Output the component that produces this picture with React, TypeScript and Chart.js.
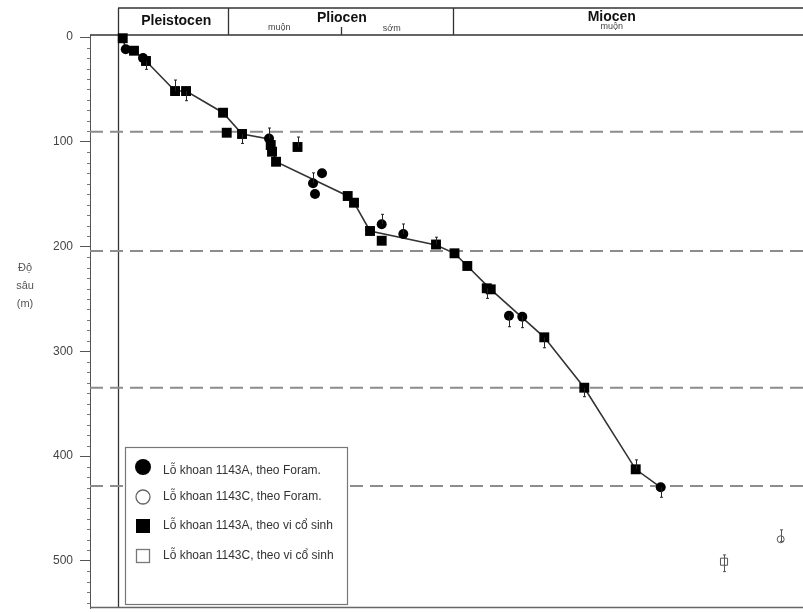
import React, { useEffect, useRef } from 'react';
import { Chart, registerables } from 'chart.js';

Chart.register(...registerables);

// ---------- data ----------
const yTicks = [0, 100, 200, 300, 400, 500];
const ageMin = -0.45;
const ageMax = 10.96;
const depthMin = -2;
const depthMax = 545;

// age-depth model line (age in Ma, depth in m)
const modelAge = [0.074, 0.126, 0.254, 0.446, 0.911, 1.087, 1.679, 1.983, 2.415, 2.527, 3.674, 3.775, 4.031, 5.087, 5.383, 5.588, 5.963, 6.82, 7.46, 8.283, 8.683];
const modelDepth = [1.1, 11.8, 13.0, 22.8, 51.5, 51.5, 72.2, 92.5, 97.3, 119.0, 151.7, 158.1, 185.1, 198.5, 206.4, 218.5, 240.8, 286.6, 334.7, 412.6, 429.8];

// Hole 1143A, Foram (filled circles)
const foramAAge = [0.122, 0.398, 2.415, 3.119, 3.263, 3.151, 4.218, 4.564, 6.255, 6.468, 8.683];
const foramADepth = [11.6, 19.9, 96.8, 139.6, 130.0, 149.8, 178.7, 188.0, 266.0, 266.9, 429.8];
const foramAErrMinus = [0, 0, 10, 10, 0, 0, 9.5, 9.6, 0, 0, 0];
const foramAErrPlus = [0, 0, 0, 0, 0, 0, 0, 0, 10.5, 10.5, 9.5];

// Hole 1143C, Foram (open circles)
const foramCAge = [10.603];
const foramCDepth = [479.4];
const foramCErrMinus = [9];
const foramCErrPlus = [2];

// Hole 1143A, nannofossils (filled squares)
const nannoAAge = [0.074, 0.254, 0.446, 0.911, 1.087, 1.679, 1.738, 1.983, 2.442, 2.463, 2.527, 2.871, 3.674, 3.775, 4.031, 4.218, 5.087, 5.383, 5.588, 5.899, 5.963, 6.82, 7.46, 8.283];
const nannoADepth = [1.1, 13.0, 22.8, 51.5, 51.5, 72.2, 91.3, 92.5, 103.0, 109.4, 119.0, 104.9, 151.7, 158.1, 185.1, 194.4, 198.0, 206.4, 218.5, 239.8, 240.8, 286.6, 334.7, 412.6];
const nannoAErrMinus = [0, 0, 0, 10.5, 0, 0, 0, 0, 0, 0, 0, 9.5, 0, 0, 0, 0, 7, 0, 0, 0, 0, 0, 0, 9];
const nannoAErrPlus = [0, 0, 8, 0, 9.2, 0, 0, 9, 0, 0, 0, 0, 0, 0, 0, 0, 0, 0, 0, 9.6, 0, 10, 8.6, 0];

// Hole 1143C, nannofossils (open squares)
const nannoCAge = [9.696];
const nannoCDepth = [500.8];
const nannoCErrMinus = [6.5];
const nannoCErrPlus = [9.5];

// datum (dashed) depths
const datumDepths = [90.3, 204.2, 334.7, 428.5];

// epochs
const epochBounds = [0, 1.76, 5.36];
const epochNames = ['Pleistocen', 'Pliocen', 'Miocen'];
const epochLabelAge = [0.93, 3.58, 7.9];
const subBoundAge = [3.57];
const subNames = ['muộn', 'sớm', 'muộn'];
const subLabelAge = [2.58, 4.38, 7.9];

const legendLabels = [
  'Lỗ khoan 1143A, theo Foram.',
  'Lỗ khoan 1143C, theo Foram.',
  'Lỗ khoan 1143A, theo vi cổ sinh',
  'Lỗ khoan 1143C, theo vi cổ sinh',
];

const yTitle = ['Độ', 'sâu', '(m)'];

const FONT = "'Liberation Sans', Arial, sans-serif";

const pts = (a: number[], d: number[]) => a.map((x, i) => ({ x, y: d[i] }));

const errorSets = [
  { age: foramAAge, depth: foramADepth, minus: foramAErrMinus, plus: foramAErrPlus, color: '#222' },
  { age: foramCAge, depth: foramCDepth, minus: foramCErrMinus, plus: foramCErrPlus, color: '#555' },
  { age: nannoAAge, depth: nannoADepth, minus: nannoAErrMinus, plus: nannoAErrPlus, color: '#222' },
  { age: nannoCAge, depth: nannoCDepth, minus: nannoCErrMinus, plus: nannoCErrPlus, color: '#555' },
];

const decorPlugin = {
  id: 'decor',
  beforeDatasetsDraw(chart: any) {
    const { ctx, chartArea, scales } = chart;
    const xs = scales.x;
    const ys = scales.y;
    const top = 8;
    const hb = chartArea.top;
    ctx.save();
    ctx.strokeStyle = '#333';
    ctx.lineWidth = 1.3;
    const x0 = xs.getPixelForValue(epochBounds[0]);
    // header
    ctx.beginPath();
    ctx.moveTo(x0, top);
    ctx.lineTo(chartArea.right, top);
    ctx.moveTo(chartArea.left, hb);
    ctx.lineTo(chartArea.right, hb);
    epochBounds.forEach((b) => {
      const px = Math.round(xs.getPixelForValue(b)) + 0.5;
      ctx.moveTo(px, top);
      ctx.lineTo(px, hb);
    });
    subBoundAge.forEach((b) => {
      const px = Math.round(xs.getPixelForValue(b)) + 0.5;
      ctx.moveTo(px, hb - 8);
      ctx.lineTo(px, hb);
    });
    // inner frame
    ctx.moveTo(Math.round(x0) + 0.5, hb);
    ctx.lineTo(Math.round(x0) + 0.5, chartArea.bottom);
    ctx.stroke();
    // bottom line
    ctx.strokeStyle = '#666';
    ctx.lineWidth = 1.5;
    ctx.beginPath();
    ctx.moveTo(chartArea.left, chartArea.bottom - 0.5);
    ctx.lineTo(chartArea.right, chartArea.bottom - 0.5);
    ctx.stroke();
    // minor ticks
    ctx.strokeStyle = '#777';
    ctx.lineWidth = 1;
    ctx.beginPath();
    for (let v = 10; v < depthMax; v += 10) {
      if (v % 100 === 0) continue;
      const py = Math.round(ys.getPixelForValue(v)) + 0.5;
      ctx.moveTo(chartArea.left - 3, py);
      ctx.lineTo(chartArea.left, py);
    }
    ctx.stroke();
    // header text
    ctx.fillStyle = '#111';
    ctx.textAlign = 'center';
    ctx.textBaseline = 'middle';
    ctx.font = `bold 14px ${FONT}`;
    const epochY = [21, 18, 17];
    epochNames.forEach((n, i) => {
      ctx.fillText(n, xs.getPixelForValue(epochLabelAge[i]), epochY[i]);
    });
    ctx.font = `9px ${FONT}`;
    ctx.fillStyle = '#444';
    const subY = [28, 29, 27];
    subNames.forEach((n, i) => {
      ctx.fillText(n, xs.getPixelForValue(subLabelAge[i]), subY[i]);
    });
    // y title
    ctx.font = `11px ${FONT}`;
    ctx.fillStyle = '#555';
    yTitle.forEach((t, i) => ctx.fillText(t, 25, 268 + i * 18));
    ctx.restore();
  },
  afterDatasetsDraw(chart: any) {
    const { ctx, scales } = chart;
    const xs = scales.x;
    const ys = scales.y;
    ctx.save();
    // error bars
    errorSets.forEach((s) => {
      ctx.strokeStyle = s.color;
      ctx.lineWidth = 1;
      s.age.forEach((a: number, i: number) => {
        const m = s.minus[i];
        const p = s.plus[i];
        if (!m && !p) return;
        const px = Math.round(xs.getPixelForValue(a)) + 0.5;
        const y1 = ys.getPixelForValue(s.depth[i] - m);
        const y2 = ys.getPixelForValue(s.depth[i] + p);
        ctx.beginPath();
        ctx.moveTo(px, y1);
        ctx.lineTo(px, y2);
        if (m) {
          ctx.moveTo(px - 1.5, y1);
          ctx.lineTo(px + 1.5, y1);
        }
        if (p) {
          ctx.moveTo(px - 1.5, y2);
          ctx.lineTo(px + 1.5, y2);
        }
        ctx.stroke();
      });
    });
    // legend
    const bx = 125, by = 447, bw = 222, bh = 157;
    ctx.fillStyle = '#fff';
    ctx.fillRect(bx, by, bw, bh);
    ctx.strokeStyle = '#777';
    ctx.lineWidth = 1.2;
    ctx.strokeRect(bx + 0.5, by + 0.5, bw, bh);
    const mx = 143;
    const rowY = [467, 497, 526, 556];
    // filled circle
    ctx.fillStyle = '#000';
    ctx.beginPath();
    ctx.arc(mx, rowY[0], 8, 0, Math.PI * 2);
    ctx.fill();
    // open circle
    ctx.strokeStyle = '#666';
    ctx.lineWidth = 1.3;
    ctx.beginPath();
    ctx.arc(mx, rowY[1], 7, 0, Math.PI * 2);
    ctx.fillStyle = '#fff';
    ctx.fill();
    ctx.stroke();
    // filled square
    ctx.fillStyle = '#000';
    ctx.fillRect(mx - 7, rowY[2] - 7, 14, 14);
    // open square
    ctx.strokeStyle = '#777';
    ctx.strokeRect(mx - 6.5, rowY[3] - 6.5, 13, 13);
    ctx.fillStyle = '#333';
    ctx.font = `12px ${FONT}`;
    ctx.textAlign = 'left';
    ctx.textBaseline = 'middle';
    const textY = [471, 497, 526, 556];
    legendLabels.forEach((t, i) => ctx.fillText(t, 163, textY[i]));
    ctx.restore();
  },
};

export default function App() {
  const ref = useRef<HTMLCanvasElement>(null);
  useEffect(() => {
    const datumSets = datumDepths.map((d) => ({
      label: 'datum',
      data: [{ x: ageMin, y: d }, { x: ageMax, y: d }],
      showLine: true,
      borderColor: '#8c8c8c',
      borderWidth: 2,
      borderDash: [13, 7],
      pointRadius: 0,
      order: 3,
    }));
    const chart = new Chart(ref.current as HTMLCanvasElement, {
      type: 'scatter',
      data: {
        datasets: [
          {
            label: legendLabels[0],
            data: pts(foramAAge, foramADepth),
            pointStyle: 'circle',
            pointRadius: 5,
            backgroundColor: '#000',
            borderColor: '#000',
            borderWidth: 0,
            clip: false,
            order: 0,
          },
          {
            label: legendLabels[1],
            data: pts(foramCAge, foramCDepth),
            pointStyle: 'circle',
            pointRadius: 3.5,
            backgroundColor: 'rgba(255,255,255,0)',
            borderColor: '#555',
            borderWidth: 1,
            clip: false,
            order: 0,
          },
          {
            label: legendLabels[2],
            data: pts(nannoAAge, nannoADepth),
            pointStyle: 'rect',
            pointRadius: 7,
            backgroundColor: '#000',
            borderColor: '#000',
            borderWidth: 0,
            clip: false,
            order: 0,
          },
          {
            label: legendLabels[3],
            data: pts(nannoCAge, nannoCDepth),
            pointStyle: 'rect',
            pointRadius: 5,
            backgroundColor: 'rgba(255,255,255,0)',
            borderColor: '#555',
            borderWidth: 1,
            clip: false,
            order: 0,
          },
          {
            label: 'model',
            data: pts(modelAge, modelDepth),
            showLine: true,
            borderColor: '#333',
            borderWidth: 1.6,
            pointRadius: 0,
            clip: false,
            order: 1,
          },
          ...datumSets,
        ] as any,
      },
      options: {
        responsive: false,
        animation: false,
        devicePixelRatio: 1,
        layout: { autoPadding: false, padding: { top: 35, bottom: 4, left: 0, right: 0 } },
        plugins: { legend: { display: false }, tooltip: { enabled: false } },
        events: [],
        scales: {
          x: {
            type: 'linear',
            display: false,
            min: ageMin,
            max: ageMax,
          },
          y: {
            type: 'linear',
            reverse: true,
            min: depthMin,
            max: depthMax,
            afterBuildTicks: (s: any) => {
              s.ticks = yTicks.map((v) => ({ value: v }));
            },
            afterFit: (s: any) => {
              s.width = 90;
              s.paddingTop = 0;
              s.paddingBottom = 0;
            },
            ticks: {
              font: { size: 12, family: FONT },
              color: '#444',
              padding: 7,
            },
            grid: {
              drawOnChartArea: false,
              drawTicks: true,
              tickLength: 10,
              color: '#555',
            },
            border: { display: true, color: '#555', width: 1 },
          },
        },
      } as any,
      plugins: [decorPlugin],
    });
    return () => chart.destroy();
  }, []);
  return (
    <div style={{ position: 'absolute', left: 0, top: 0, width: 803, height: 612, background: '#fff' }}>
      <canvas ref={ref} width={803} height={612} style={{ display: 'block' }} />
    </div>
  );
}
